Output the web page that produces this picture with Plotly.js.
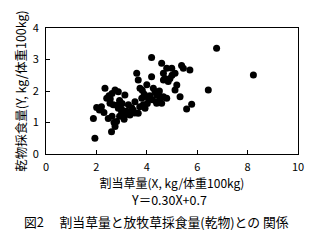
<!DOCTYPE html>
<html><head><meta charset="utf-8">
<script src="https://cdn.plot.ly/plotly-3.0.1.min.js"></script>
<style>html,body{margin:0;padding:0;background:#fff}#c{width:320px;height:252px}</style>
</head><body><div id="c"></div>
<script>
const allocatedGrass = [1.94,2.01,1.88,2.34,2.41,2.47,2.60,2.74,2.80,2.74,2.87,2.54,2.67,2.87,3.00,3.13,3.27,3.13,3.33,3.46,3.53,3.60,3.66,3.73,3.80,3.66,3.86,4.19,4.19,4.26,4.39,4.39,3.93,4.06,6.77,4.59,4.79,4.99,5.38,5.45,5.71,5.12,4.66,4.72,4.92,4.66,4.33,4.46,4.66,4.79,5.19,5.12,5.32,6.44,5.78,5.58,4.39,4.59,4.52,8.23,2.20,2.50,2.62,2.92,3.02,3.20,3.40,3.52,3.72,3.90,4.02,4.12,4.00,3.82,2.30,2.62,2.92,2.70,3.10,2.55,2.82,3.00,4.50,4.22,5.00,4.85,2.12];
const intake = [0.50,1.48,1.13,2.09,1.77,1.13,0.71,0.87,1.03,2.03,1.98,1.61,1.56,1.45,1.34,1.87,1.56,1.24,1.24,1.40,1.66,2.56,2.35,2.09,1.77,1.29,1.56,3.06,2.45,2.09,1.87,1.66,1.45,1.77,3.36,2.88,2.72,2.72,2.81,2.72,2.67,2.56,2.56,2.40,2.40,2.35,1.98,1.87,1.82,1.77,2.19,2.03,1.82,2.03,1.58,1.43,1.61,1.61,1.71,2.51,1.50,1.85,1.92,1.70,1.60,1.36,1.47,1.30,1.50,1.90,1.60,1.85,2.20,2.02,1.32,1.20,1.20,1.00,1.10,1.75,1.55,1.42,2.00,1.72,2.50,2.30,1.40];
const xTicks = [0,2,4,6,8,10];
const yTicks = [0,1,2,3,4];
const xTitle = '割当草量(X, kg/体重100kg)';
const yTitle = '乾物採食量(Y, kg/体重100kg)';
const equation = 'Y＝0.30X+0.7';
const caption = '図2　 割当草量と放牧草採食量(乾物)との 関係';

const F = '"Noto Sans CJK JP", "DejaVu Sans", sans-serif';
Plotly.newPlot('c', [{
  x: allocatedGrass, y: intake, type: 'scatter', mode: 'markers',
  marker: {color: '#000', size: 7, symbol: 'circle'}, hoverinfo: 'none'
}], {
  width: 320, height: 252,
  margin: {l: 46, r: 22, t: 28, b: 98},
  paper_bgcolor: '#fff', plot_bgcolor: '#fff',
  showlegend: false,
  font: {family: F, color: '#000', size: 11},
  xaxis: {range: [0, 10], tickvals: xTicks, ticks: 'inside', ticklen: 4, tickcolor: '#000',
    showgrid: false, zeroline: false, showline: true, mirror: true, linecolor: '#000', linewidth: 1,
    tickfont: {family: F, size: 11}, ticklabelstandoff: 3,
    title: {text: xTitle, font: {family: F, size: 12}, standoff: 0}},
  yaxis: {range: [0, 4], tickvals: yTicks, ticks: 'inside', ticklen: 4, tickcolor: '#000',
    showgrid: false, zeroline: false, showline: true, mirror: true, linecolor: '#000', linewidth: 1,
    tickfont: {family: F, size: 11}, ticklabelstandoff: 4,
    title: {text: yTitle, font: {family: F, size: 12.5}, standoff: 3}},
  annotations: [
    {text: equation, xref: 'paper', yref: 'paper', x: 0.488, y: -0.36, xanchor: 'center', yanchor: 'middle', showarrow: false, font: {family: F, size: 12.5}},
    {text: caption, xref: 'paper', yref: 'paper', x: -0.095, y: -0.535, xanchor: 'left', yanchor: 'middle', showarrow: false, font: {family: F, size: 12.8}}
  ]
}, {displayModeBar: false, staticPlot: true});
</script></body></html>
